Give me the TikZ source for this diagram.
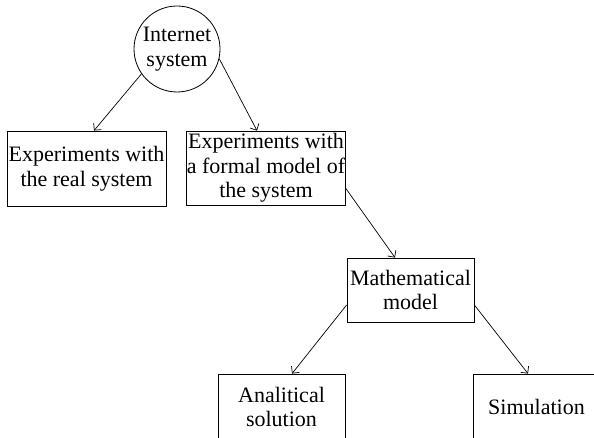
\documentclass[tikz,border=0pt]{standalone}
\usepackage{fontspec}
\setmainfont{Liberation Serif}
\usetikzlibrary{arrows.meta}
\begin{document}
\begin{tikzpicture}[x=1pt,y=-1pt,
  every node/.style={font=\fontsize{22}{24.5}\selectfont, align=center, inner sep=0pt},
  box/.style={draw, line width=0.8pt, rectangle},
  hub/.style={draw, line width=0.8pt, circle, minimum size=86pt},
  link/.style={draw, line width=0.7pt, -{Straight Barb[length=5pt,width=10pt]}}]
  \useasboundingbox (0,0) rectangle (594,438);
  \clip (0,0) rectangle (594,438);

  % root of the tree
  \node[hub] (net) at (177,49) {Internet\\system};

  % first level
  \node[box, minimum width=159pt, minimum height=75pt] (real) at (86.5,168.5)
    {Experiments with\\the real system};
  \node[box, minimum width=158pt, minimum height=74pt] (formal) at (266,168)
    {Experiments with\\a formal model of\\the system};

  % second level
  \node[box, minimum width=127pt, minimum height=64pt] (math) at (410.5,290)
    {Mathematical\\model};

  % leaves (cut by the lower edge)
  \node[box, minimum width=127pt, minimum height=66pt] (anal) at (281.5,407)
    {Analitical\\solution};
  \node[box, minimum width=127pt, minimum height=66pt] (sim) at (536.5,407)
    {Simulation};

  % connectors
  \draw[link] (net.215) -- ([xshift=7.5pt]real.north);
  \draw[link] (net.347) -- ([xshift=-9pt]formal.north);
  \draw[link] ([yshift=-20pt]formal.east) -- ([xshift=-15.5pt]math.north);
  \draw[link] ([yshift=-15pt]math.west) -- ([xshift=10.5pt]anal.north);
  \draw[link] ([yshift=-15pt]math.east) -- ([xshift=-8.5pt]sim.north);
\end{tikzpicture}
\end{document}
